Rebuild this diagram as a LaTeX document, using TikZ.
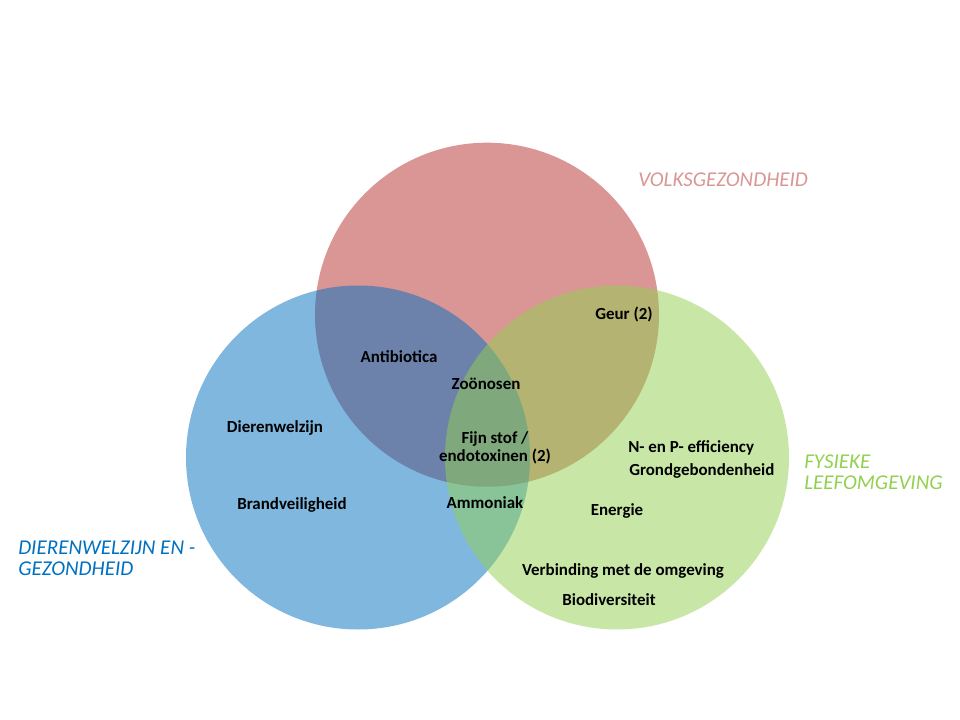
\documentclass[tikz,border=0pt]{standalone}
\usepackage{fontspec}
\setmainfont{Carlito}
\definecolor{volks}{HTML}{D99694}
\definecolor{dier}{HTML}{0070C0}
\definecolor{fysiek}{HTML}{92D050}
\tikzset{
	item/.style={font=\bfseries\fontsize{12.7}{13}\selectfont, inner sep=0pt},
	kop/.style={font=\itshape\fontsize{15.8}{15.5}\selectfont, inner sep=0pt, align=left}
}
\begin{document}
\begin{tikzpicture}[x=0.75pt, y=-0.75pt]
			\useasboundingbox (0, 0) rectangle (960, 720);

			\fill [volks] (487, 314.7) circle[radius=172];
			\fill [dier, fill opacity=0.5] (358, 457.5) circle[radius=172];
			\fill [fysiek, fill opacity=0.5] (617, 457.5) circle[radius=172];

			\node [kop, text=volks, anchor=west] (volksgezondheid) at (638, 180) {VOLKSGEZONDHEID};
			\node [kop, text=dier, anchor=west] (dierenwelzijnkop) at (18, 558) {DIERENWELZIJN EN -\\GEZONDHEID};
			\node [kop, text=fysiek, anchor=west] (leefomgeving) at (804, 472) {FYSIEKE\\LEEFOMGEVING};

			\node [item] (geur) at (624, 314) {Geur (2)};
			\node [item] (antibiotica) at (399, 357) {Antibiotica};
			\node [item] (zoonosen) at (486, 384) {Zoönosen};
			\node [item, align=center] (fijnstof) at (495, 448) {Fijn stof /\\endotoxinen (2)};
			\node [item] (dierenwelzijn) at (275, 428) {Dierenwelzijn};
			\node [item] (brandveiligheid) at (292, 505) {Brandveiligheid};
			\node [item] (ammoniak) at (485, 503) {Ammoniak};
			\node [item, anchor=west] (efficiency) at (628, 448) {N- en P- efficiency};
			\node [item, anchor=west] (grondgebonden) at (629, 471) {Grondgebondenheid};
			\node [item] (energie) at (617, 511) {Energie};
			\node [item] (verbinding) at (623, 571) {Verbinding met de omgeving};
			\node [item] (biodiversiteit) at (609, 600) {Biodiversiteit};
		\end{tikzpicture}
\end{document}
